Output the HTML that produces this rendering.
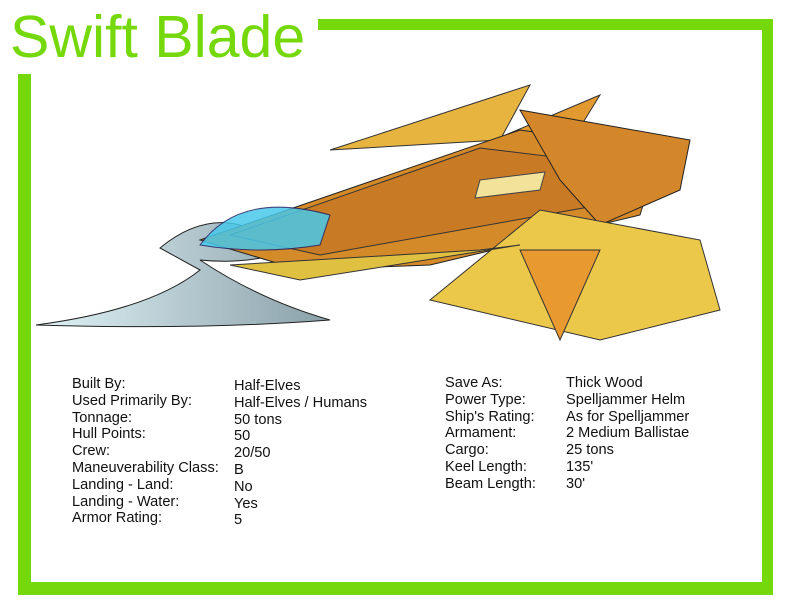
<!DOCTYPE html>
<html><head><meta charset="utf-8"><style>
body{margin:0;width:792px;height:612px;background:#fff;position:relative;overflow:hidden;font-family:"Liberation Sans",sans-serif}
.g{position:absolute;background:#74d80a}
.t{position:absolute;font-size:14.6px;line-height:16.8px;color:#111;white-space:pre}
</style></head><body>
<div style="position:absolute;left:10px;top:2px;font-size:59px;color:#74d80a;line-height:70px">Swift Blade</div>
<div class="g" style="left:318px;top:19px;width:455px;height:11px"></div>
<div class="g" style="left:762px;top:19px;width:11px;height:576px"></div>
<div class="g" style="left:18px;top:582px;width:755px;height:13px"></div>
<div class="g" style="left:18px;top:74px;width:13px;height:521px"></div>
<svg style="position:absolute;left:0;top:0" width="792" height="612">
<defs><linearGradient id="bl" x1="0" y1="0" x2="1" y2="0"><stop offset="0" stop-color="#dff3f7"/><stop offset="1" stop-color="#8aa0a8"/></linearGradient></defs>
<path d="M160,248 Q200,215 240,225 L290,250 Q250,265 200,260 Q260,300 330,320 Q200,330 36,325 Q150,310 200,270 Z" fill="url(#bl)" stroke="#222"/>
<path d="M330,150 L530,85 L500,140 Z" fill="#e8b440" stroke="#333"/>
<path d="M340,205 L600,95 L560,160 Z" fill="#e29a30" stroke="#333"/>
<path d="M200,240 L520,130 L660,150 L640,215 L430,265 L300,270 Z" fill="#d58a2a" stroke="#222"/>
<path d="M230,235 L480,148 L620,165 L600,205 L320,255 Z" fill="#c97a25" stroke="#333"/>
<path d="M520,110 L690,140 L680,190 L600,225 L560,180 Z" fill="#d3862a" stroke="#222"/>
<path d="M480,180 L545,172 L540,190 L475,198 Z" fill="#f3e29a" stroke="#444"/>
<path d="M430,300 L540,210 L700,240 L720,310 L600,340 Z" fill="#ecc84a" stroke="#333"/>
<path d="M520,250 L600,250 L560,340 Z" fill="#e89a30" stroke="#333"/>
<path d="M200,245 Q240,190 330,215 L320,245 Q260,255 200,245 Z" fill="#48c8ea" stroke="#226" opacity=".85"/>
<path d="M230,265 L480,250 L520,245 L300,280 Z" fill="#e0c040" stroke="#333"/>
</svg>
<div class="t" style="left:72px;top:376px">Built By:
Used Primarily By:
Tonnage:
Hull Points:
Crew:
Maneuverability Class:
Landing - Land:
Landing - Water:
Armor Rating:</div>
<div class="t" style="left:234px;top:378px">Half-Elves
Half-Elves / Humans
50 tons
50
20/50
B
No
Yes
5</div>
<div class="t" style="left:445px;top:375px">Save As:
Power Type:
Ship's Rating:
Armament:
Cargo:
Keel Length:
Beam Length:</div>
<div class="t" style="left:566px;top:375px">Thick Wood
Spelljammer Helm
As for Spelljammer
2 Medium Ballistae
25 tons
135'
30'</div>
</body></html>
